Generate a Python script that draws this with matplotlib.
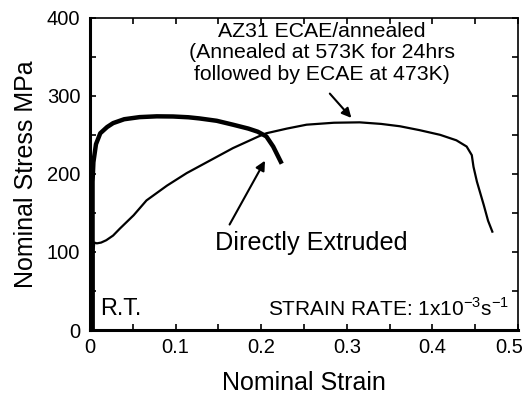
import matplotlib
matplotlib.use('Agg')
import matplotlib.pyplot as plt
import matplotlib.transforms as mtransforms
from matplotlib.ticker import MultipleLocator, FixedFormatter, FixedLocator

plt.rcParams['font.family'] = ['Liberation Sans', 'DejaVu Sans']
plt.rcParams['mathtext.fontset'] = 'custom'
plt.rcParams['mathtext.rm'] = 'Liberation Sans'

# Directly extruded (thick curve)
ext_strain = [0.003, 0.003, 0.004, 0.007, 0.012, 0.02, 0.027, 0.04, 0.058, 0.078, 0.097,
              0.115, 0.128, 0.148, 0.167, 0.185, 0.196, 0.206, 0.214, 0.219, 0.224]
ext_stress = [0, 190, 215, 238, 252, 260, 265, 270, 272.7, 273.7, 273.5,
              272.5, 271, 268, 263, 258, 254, 248, 235, 224, 213]

# ECAE / annealed (thin curve)
ecae_strain = [0.004, 0.004, 0.005, 0.008, 0.013, 0.019, 0.027, 0.035, 0.051, 0.066, 0.09,
               0.113, 0.14, 0.167, 0.197, 0.206, 0.23, 0.253, 0.285, 0.315, 0.34, 0.362,
               0.385, 0.409, 0.428, 0.44, 0.446, 0.448, 0.452, 0.456, 0.46, 0.465, 0.47]
ecae_stress = [0, 100, 112, 111, 112, 115, 121, 130, 147, 166, 185,
               201, 217, 233, 248, 252, 258, 263, 265.5, 266, 264, 261,
               256, 250, 243, 235, 224, 209, 190, 175, 160, 140, 126]

xticks = [0, 0.1, 0.2, 0.3, 0.4, 0.5]
xlabels = ['0', '0.1', '0.2', '0.3', '0.4', '0.5']
yticks = [0, 100, 200, 300, 400]

fig = plt.figure(figsize=(5.25, 3.94), dpi=100)
ax = fig.add_axes([0.1714, 0.1624, 0.8153, 0.7926])

ax.plot(ext_strain, ext_stress, color='black', lw=3.2, solid_capstyle='butt')
ax.plot(ecae_strain, ecae_stress, color='black', lw=1.6)

ax.set_xlim(0, 0.5)
ax.set_ylim(0, 400)
ax.xaxis.set_major_locator(FixedLocator(xticks))
ax.xaxis.set_major_formatter(FixedFormatter(xlabels))
ax.xaxis.set_minor_locator(MultipleLocator(0.05))
ax.set_yticks(yticks)
ax.yaxis.set_minor_locator(MultipleLocator(50))
ax.tick_params(which='both', direction='in', top=True, right=True, length=4, width=1.2,
               labelsize=14.5)
ax.tick_params(axis='y', pad=7)
ax.tick_params(axis='x', pad=6)
for side in ['left', 'bottom']:
    ax.spines[side].set_linewidth(2.2)
for side in ['top', 'right']:
    ax.spines[side].set_linewidth(1.2)

# keep the last x label inside the figure
last = ax.get_xticklabels()[-1]
last.set_transform(last.get_transform() +
                   mtransforms.ScaledTranslation(-9 / 100, 0, fig.dpi_scale_trans))

ax.set_xlabel('Nominal Strain', fontsize=18, labelpad=10)
ax.set_ylabel('Nominal Stress MPa', fontsize=18, labelpad=6)

ax.text(0.271, 355, 'AZ31 ECAE/annealed\n(Annealed at 573K for 24hrs\nfollowed by ECAE at 473K)',
        fontsize=15.3, ha='center', va='center', linespacing=1.17)
ax.annotate('', xy=(0.3075, 269), xytext=(0.278, 305.5),
            arrowprops=dict(arrowstyle='-|>', color='black', lw=1.5, mutation_scale=14))
ax.text(0.146, 111, 'Directly Extruded', fontsize=18.2, ha='left', va='center')
ax.annotate('', xy=(0.206, 220), xytext=(0.1615, 132),
            arrowprops=dict(arrowstyle='-|>', color='black', lw=1.5, mutation_scale=14))
ax.text(0.012, 13, 'R.T.', fontsize=16.8, ha='left', va='bottom')
ax.text(0.489, 13, r'STRAIN RATE: 1x10$^{-3}$s$^{-1}$', fontsize=15, ha='right', va='bottom')

fig.savefig('out.png', dpi=100)
